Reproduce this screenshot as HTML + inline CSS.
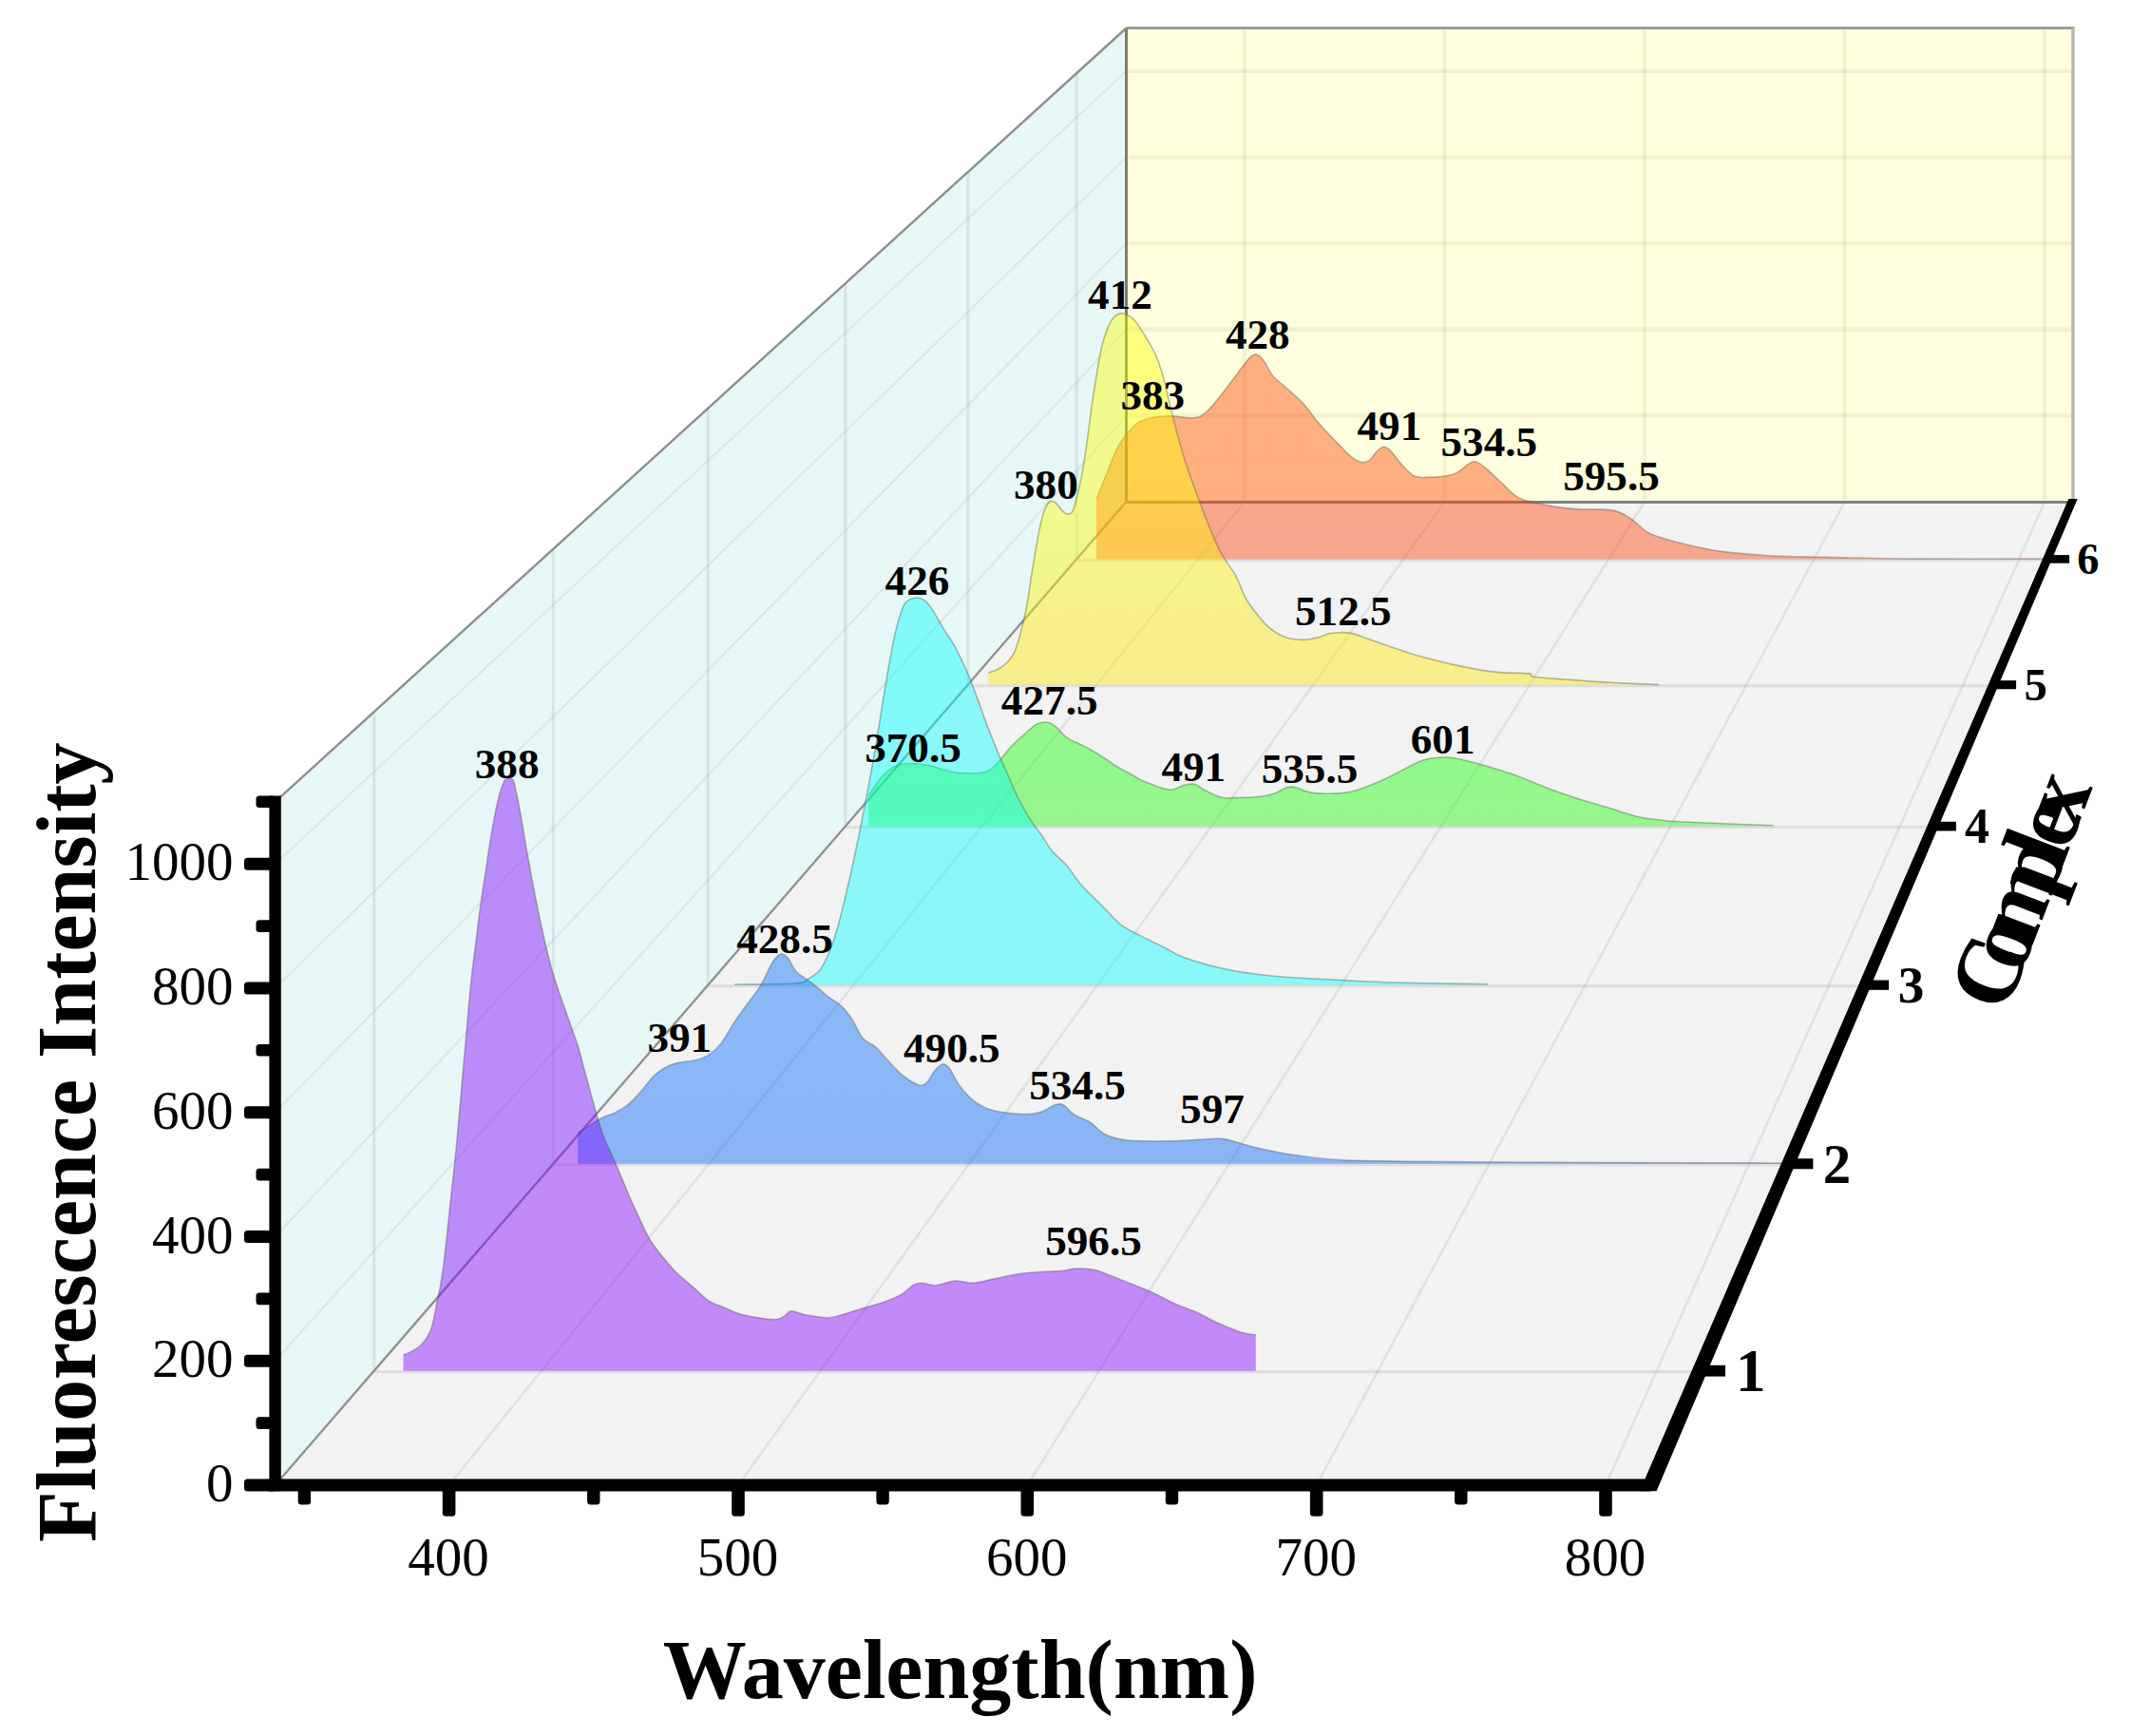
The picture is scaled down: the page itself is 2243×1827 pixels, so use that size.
<!DOCTYPE html>
<html lang="en"><head><meta charset="utf-8"><title>Fluorescence spectra of complexes 1-6</title>
<style>html,body{margin:0;padding:0;background:#fff}body{width:2243px;height:1827px;overflow:hidden}svg{display:block}text{font-family:"Liberation Serif","Times New Roman",serif;fill:#000}.b{font-weight:bold}.pk{font-weight:bold;font-size:45.2px;text-anchor:middle}.tk{font-size:57px}.g{stroke:#7f7f7f;stroke-opacity:.17;stroke-width:3;fill:none}.w{stroke-opacity:.15}</style></head><body>
<svg width="2243" height="1827" viewBox="0 0 2243 1827" role="img" aria-label="3D waterfall plot of fluorescence spectra">
<rect width="2243" height="1827" fill="#fff"/>
<polygon points="289.6,1563.0 1185.5,528.0 2182.0,528.0 1733.5,1563.0" fill="#f2f2f2"/>
<polygon points="289.6,1563.0 289.6,843.8 1185.5,29.5 1185.5,528.0" fill="#e6f7f6"/>
<rect x="1185.5" y="29.5" width="996.5" height="498.5" fill="#ffffdf"/>
<g class="g">
<path d="M393.7 1443.7H1785.6"/>
<path d="M582.3 1225.8H1880.1"/>
<path d="M745.2 1037.7H1961.6"/>
<path d="M889.8 870.6H2034.0"/>
<path d="M1018.7 721.7H2098.5"/>
<path d="M1133.2 589.4H2155.8"/>
<path style="stroke-width:2.6;stroke-opacity:.15" d="M472.6 1563.0L1310.0 528.0"/>
<path style="stroke-width:2.6;stroke-opacity:.15" d="M777.0 1563.0L1520.6 528.0"/>
<path style="stroke-width:2.6;stroke-opacity:.15" d="M1081.3 1563.0L1731.1 528.0"/>
<path style="stroke-width:2.6;stroke-opacity:.15" d="M1385.7 1563.0L1941.7 528.0"/>
<path style="stroke-width:2.6;stroke-opacity:.15" d="M1690.0 1563.0L2152.2 528.0"/>
<path class="w" d="M393.7 1442.7V749.2"/>
<path class="w" d="M582.3 1224.8V577.7"/>
<path class="w" d="M745.2 1036.7V429.7"/>
<path class="w" d="M889.8 869.6V298.3"/>
<path class="w" d="M1018.7 720.7V181.1"/>
<path class="w" d="M1133.2 588.4V77.0"/>
<path class="w" style="stroke-width:2.2;stroke-opacity:.12" d="M289.6 1432.2L1185.5 437.4"/>
<path class="w" style="stroke-width:2.2;stroke-opacity:.12" d="M289.6 1301.5L1185.5 346.7"/>
<path class="w" style="stroke-width:2.2;stroke-opacity:.12" d="M289.6 1170.7L1185.5 256.1"/>
<path class="w" style="stroke-width:2.2;stroke-opacity:.12" d="M289.6 1039.9L1185.5 165.5"/>
<path class="w" style="stroke-width:2.2;stroke-opacity:.12" d="M289.6 909.2L1185.5 74.8"/>
</g>
<g class="g" style="stroke-width:4.5;stroke:#8a8660;stroke-opacity:.11">
<path d="M1310.0 29.5V528.0"/>
<path d="M1520.6 29.5V528.0"/>
<path d="M1731.1 29.5V528.0"/>
<path d="M1941.7 29.5V528.0"/>
<path d="M2152.2 29.5V528.0"/>
<path d="M1185.5 437.4H2182.0"/>
<path d="M1185.5 346.7H2182.0"/>
<path d="M1185.5 256.1H2182.0"/>
<path d="M1185.5 165.5H2182.0"/>
<path d="M1185.5 74.8H2182.0"/>
</g>
<g fill="none" stroke-width="3">
<path d="M1185.5 29.5H2183.5" stroke="#9c9c9c"/>
<path d="M2182.0 29.5V528.0" stroke="#b8b8b2" stroke-width="3.5"/>
<path d="M1185.5 528.4H2182.0" stroke="#80807a"/>
<path d="M1185.5 29.5V528.0" stroke="#7f7e6c"/>
<path d="M289.6 843.8L1185.5 29.5" stroke="#8e8e8e" stroke-width="2.4"/>
<path d="M289.6 1563.0L1185.5 528.0" stroke="#909090" stroke-width="2.3"/>
</g>
<defs><linearGradient id="g6" gradientUnits="userSpaceOnUse" x1="0" y1="373.8" x2="0" y2="588.4"><stop offset="0" stop-color="rgb(255,70,0)"/><stop offset=".5" stop-color="rgb(255,70,0)"/><stop offset="1" stop-color="rgb(255,62,10)"/></linearGradient></defs>
<path d="M1154.1 588.4L1154.1 525.2C1155.8 521.0 1161.2 507.3 1164.8 498.5C1168.4 489.7 1172.7 477.6 1176.6 470.3C1180.5 463.0 1185.8 457.1 1189.3 452.9C1192.8 448.7 1195.0 446.3 1198.6 444.2C1202.2 442.0 1207.7 440.6 1211.8 439.7C1215.9 438.7 1220.6 438.2 1224.5 438.0C1228.3 437.7 1231.2 437.6 1235.7 438.0C1240.2 438.3 1248.1 439.9 1252.6 439.9C1257.1 439.9 1260.3 439.9 1263.9 438.0C1267.5 436.1 1270.6 433.1 1275.1 428.1C1279.7 423.2 1286.6 414.0 1292.0 407.0C1297.4 400.0 1304.9 389.6 1308.9 384.5C1313.0 379.3 1314.9 376.3 1317.4 374.6C1319.9 372.9 1322.2 372.6 1324.4 373.8C1326.7 374.9 1329.0 378.1 1331.5 381.7C1333.9 385.2 1336.3 391.4 1339.9 395.7C1343.5 400.0 1349.0 403.9 1354.0 408.4C1358.9 412.9 1365.5 418.0 1370.9 423.9C1376.3 429.7 1382.4 438.7 1387.8 445.0C1393.2 451.3 1399.3 457.7 1404.7 463.3C1410.1 468.9 1417.1 476.5 1421.6 480.2C1426.1 483.9 1429.7 485.7 1432.8 486.4C1436.0 487.1 1438.6 486.3 1441.3 484.4C1444.0 482.5 1447.2 476.8 1449.7 474.6C1452.2 472.3 1454.5 470.3 1456.7 470.3C1459.0 470.3 1460.9 471.6 1463.8 474.6C1466.7 477.5 1471.0 484.4 1475.1 488.6C1479.1 492.9 1484.2 499.1 1489.1 501.3C1494.1 503.5 1500.6 502.2 1506.0 502.2C1511.4 502.1 1518.4 501.6 1522.9 500.7C1527.4 499.9 1530.6 499.0 1534.2 497.1C1537.8 495.2 1542.5 490.4 1545.4 488.6C1548.4 486.8 1549.8 485.4 1552.5 485.8C1555.2 486.3 1558.1 488.1 1562.3 491.5C1566.6 494.8 1573.8 502.0 1579.2 506.9C1584.6 511.9 1590.7 519.0 1596.1 522.4C1601.5 525.9 1606.7 526.9 1613.0 528.6C1619.3 530.3 1627.9 532.0 1635.5 533.1C1643.2 534.3 1651.0 535.3 1660.9 535.9C1670.8 536.6 1688.5 535.4 1697.5 537.1C1706.5 538.7 1711.1 542.5 1717.2 546.4C1723.3 550.2 1727.8 557.1 1735.7 561.1C1743.7 565.0 1755.0 567.9 1766.7 570.9C1778.4 573.9 1793.2 577.7 1808.9 579.9C1824.7 582.2 1847.2 584.0 1865.2 585.0C1883.3 586.0 1896.8 585.9 1921.6 586.4C1946.3 586.9 1983.1 587.8 2020.1 588.1C2057.1 588.4 2131.7 588.0 2153.0 588.0L2153.0 588.4Z" fill="url(#g6)" fill-opacity="0.43"/>
<path d="M1154.1 525.2C1155.8 521.0 1161.2 507.3 1164.8 498.5C1168.4 489.7 1172.7 477.6 1176.6 470.3C1180.5 463.0 1185.8 457.1 1189.3 452.9C1192.8 448.7 1195.0 446.3 1198.6 444.2C1202.2 442.0 1207.7 440.6 1211.8 439.7C1215.9 438.7 1220.6 438.2 1224.5 438.0C1228.3 437.7 1231.2 437.6 1235.7 438.0C1240.2 438.3 1248.1 439.9 1252.6 439.9C1257.1 439.9 1260.3 439.9 1263.9 438.0C1267.5 436.1 1270.6 433.1 1275.1 428.1C1279.7 423.2 1286.6 414.0 1292.0 407.0C1297.4 400.0 1304.9 389.6 1308.9 384.5C1313.0 379.3 1314.9 376.3 1317.4 374.6C1319.9 372.9 1322.2 372.6 1324.4 373.8C1326.7 374.9 1329.0 378.1 1331.5 381.7C1333.9 385.2 1336.3 391.4 1339.9 395.7C1343.5 400.0 1349.0 403.9 1354.0 408.4C1358.9 412.9 1365.5 418.0 1370.9 423.9C1376.3 429.7 1382.4 438.7 1387.8 445.0C1393.2 451.3 1399.3 457.7 1404.7 463.3C1410.1 468.9 1417.1 476.5 1421.6 480.2C1426.1 483.9 1429.7 485.7 1432.8 486.4C1436.0 487.1 1438.6 486.3 1441.3 484.4C1444.0 482.5 1447.2 476.8 1449.7 474.6C1452.2 472.3 1454.5 470.3 1456.7 470.3C1459.0 470.3 1460.9 471.6 1463.8 474.6C1466.7 477.5 1471.0 484.4 1475.1 488.6C1479.1 492.9 1484.2 499.1 1489.1 501.3C1494.1 503.5 1500.6 502.2 1506.0 502.2C1511.4 502.1 1518.4 501.6 1522.9 500.7C1527.4 499.9 1530.6 499.0 1534.2 497.1C1537.8 495.2 1542.5 490.4 1545.4 488.6C1548.4 486.8 1549.8 485.4 1552.5 485.8C1555.2 486.3 1558.1 488.1 1562.3 491.5C1566.6 494.8 1573.8 502.0 1579.2 506.9C1584.6 511.9 1590.7 519.0 1596.1 522.4C1601.5 525.9 1606.7 526.9 1613.0 528.6C1619.3 530.3 1627.9 532.0 1635.5 533.1C1643.2 534.3 1651.0 535.3 1660.9 535.9C1670.8 536.6 1688.5 535.4 1697.5 537.1C1706.5 538.7 1711.1 542.5 1717.2 546.4C1723.3 550.2 1727.8 557.1 1735.7 561.1C1743.7 565.0 1755.0 567.9 1766.7 570.9C1778.4 573.9 1793.2 577.7 1808.9 579.9C1824.7 582.2 1847.2 584.0 1865.2 585.0C1883.3 586.0 1896.8 585.9 1921.6 586.4C1946.3 586.9 1983.1 587.8 2020.1 588.1C2057.1 588.4 2131.7 588.0 2153.0 588.0" fill="none" stroke="#55554a" stroke-opacity=".4" stroke-width="1.6"/>
<defs><linearGradient id="g5" gradientUnits="userSpaceOnUse" x1="0" y1="329.9" x2="0" y2="720.7"><stop offset="0" stop-color="rgb(255,255,0)"/><stop offset=".5" stop-color="rgb(255,255,0)"/><stop offset="1" stop-color="rgb(255,230,0)"/></linearGradient></defs>
<path d="M1040.3 720.7L1040.3 708.1C1041.9 707.5 1047.2 706.1 1050.4 704.3C1053.7 702.5 1057.7 699.7 1060.6 696.7C1063.4 693.7 1065.9 690.4 1068.2 685.3C1070.4 680.2 1072.5 672.7 1074.5 665.0C1076.5 657.3 1079.0 646.9 1080.8 637.1C1082.7 627.4 1084.3 614.3 1085.9 604.2C1087.5 594.0 1089.4 582.7 1091.0 573.8C1092.6 564.8 1094.4 554.9 1096.0 548.4C1097.7 541.9 1099.5 536.5 1101.1 533.2C1102.7 529.9 1104.6 528.2 1106.2 527.6C1107.8 527.0 1109.4 527.9 1111.3 529.4C1113.1 530.9 1115.8 535.2 1117.6 537.0C1119.4 538.8 1120.8 540.6 1122.7 540.8C1124.5 541.0 1127.2 541.5 1129.0 538.3C1130.8 535.0 1132.4 527.0 1134.1 520.5C1135.7 514.0 1137.5 506.6 1139.1 497.7C1140.8 488.8 1142.6 476.1 1144.2 464.8C1145.8 453.4 1147.7 438.1 1149.3 426.7C1150.9 415.4 1152.7 403.5 1154.3 393.8C1156.0 384.1 1157.6 373.6 1159.4 365.9C1161.2 358.2 1163.7 350.7 1165.8 345.6C1167.8 340.6 1169.9 336.7 1172.1 334.2C1174.3 331.7 1177.3 330.3 1179.7 329.9C1182.1 329.5 1184.9 330.4 1187.3 331.7C1189.7 333.0 1192.1 334.6 1194.9 338.0C1197.7 341.5 1201.8 348.0 1205.0 353.2C1208.3 358.5 1212.3 364.9 1215.2 371.0C1218.0 377.1 1220.4 383.1 1222.8 391.3C1225.2 399.4 1228.0 411.9 1230.4 421.7C1232.8 431.4 1235.2 441.5 1238.0 452.1C1240.8 462.6 1244.5 476.2 1248.1 487.6C1251.8 498.9 1256.8 512.1 1260.8 523.1C1264.9 534.0 1269.4 546.3 1273.5 556.0C1277.5 565.8 1281.9 576.1 1286.2 583.9C1290.4 591.7 1295.9 597.2 1300.0 604.7C1304.1 612.1 1308.0 623.7 1311.7 630.5C1315.5 637.3 1319.7 642.2 1323.5 646.9C1327.2 651.6 1331.4 656.5 1335.2 659.8C1338.9 663.2 1343.2 666.1 1346.9 668.0C1350.7 670.0 1354.2 671.4 1358.7 672.3C1363.2 673.1 1370.2 673.5 1375.1 673.2C1380.0 672.9 1385.4 671.4 1389.2 670.4C1392.9 669.4 1395.2 667.6 1398.5 666.9C1401.9 666.1 1406.5 665.8 1410.3 665.7C1414.0 665.6 1417.1 665.3 1422.0 666.4C1426.9 667.5 1434.0 670.4 1440.8 672.7C1447.5 675.1 1456.7 678.4 1464.2 680.9C1471.8 683.5 1480.2 686.4 1487.7 688.7C1495.2 690.9 1503.7 693.1 1511.2 695.0C1518.7 696.9 1527.1 698.8 1534.6 700.4C1542.1 702.0 1550.6 703.9 1558.1 705.1C1565.6 706.3 1573.3 707.3 1581.6 707.9C1589.8 708.5 1604.5 708.2 1609.7 708.9C1615.0 709.5 1607.6 711.1 1614.4 712.2C1621.2 713.2 1638.4 714.4 1651.9 715.4C1665.5 716.5 1683.9 717.7 1698.9 718.5C1713.9 719.3 1738.3 720.3 1745.8 720.6L1745.8 720.7Z" fill="url(#g5)" fill-opacity="0.43"/>
<path d="M1040.3 708.1C1041.9 707.5 1047.2 706.1 1050.4 704.3C1053.7 702.5 1057.7 699.7 1060.6 696.7C1063.4 693.7 1065.9 690.4 1068.2 685.3C1070.4 680.2 1072.5 672.7 1074.5 665.0C1076.5 657.3 1079.0 646.9 1080.8 637.1C1082.7 627.4 1084.3 614.3 1085.9 604.2C1087.5 594.0 1089.4 582.7 1091.0 573.8C1092.6 564.8 1094.4 554.9 1096.0 548.4C1097.7 541.9 1099.5 536.5 1101.1 533.2C1102.7 529.9 1104.6 528.2 1106.2 527.6C1107.8 527.0 1109.4 527.9 1111.3 529.4C1113.1 530.9 1115.8 535.2 1117.6 537.0C1119.4 538.8 1120.8 540.6 1122.7 540.8C1124.5 541.0 1127.2 541.5 1129.0 538.3C1130.8 535.0 1132.4 527.0 1134.1 520.5C1135.7 514.0 1137.5 506.6 1139.1 497.7C1140.8 488.8 1142.6 476.1 1144.2 464.8C1145.8 453.4 1147.7 438.1 1149.3 426.7C1150.9 415.4 1152.7 403.5 1154.3 393.8C1156.0 384.1 1157.6 373.6 1159.4 365.9C1161.2 358.2 1163.7 350.7 1165.8 345.6C1167.8 340.6 1169.9 336.7 1172.1 334.2C1174.3 331.7 1177.3 330.3 1179.7 329.9C1182.1 329.5 1184.9 330.4 1187.3 331.7C1189.7 333.0 1192.1 334.6 1194.9 338.0C1197.7 341.5 1201.8 348.0 1205.0 353.2C1208.3 358.5 1212.3 364.9 1215.2 371.0C1218.0 377.1 1220.4 383.1 1222.8 391.3C1225.2 399.4 1228.0 411.9 1230.4 421.7C1232.8 431.4 1235.2 441.5 1238.0 452.1C1240.8 462.6 1244.5 476.2 1248.1 487.6C1251.8 498.9 1256.8 512.1 1260.8 523.1C1264.9 534.0 1269.4 546.3 1273.5 556.0C1277.5 565.8 1281.9 576.1 1286.2 583.9C1290.4 591.7 1295.9 597.2 1300.0 604.7C1304.1 612.1 1308.0 623.7 1311.7 630.5C1315.5 637.3 1319.7 642.2 1323.5 646.9C1327.2 651.6 1331.4 656.5 1335.2 659.8C1338.9 663.2 1343.2 666.1 1346.9 668.0C1350.7 670.0 1354.2 671.4 1358.7 672.3C1363.2 673.1 1370.2 673.5 1375.1 673.2C1380.0 672.9 1385.4 671.4 1389.2 670.4C1392.9 669.4 1395.2 667.6 1398.5 666.9C1401.9 666.1 1406.5 665.8 1410.3 665.7C1414.0 665.6 1417.1 665.3 1422.0 666.4C1426.9 667.5 1434.0 670.4 1440.8 672.7C1447.5 675.1 1456.7 678.4 1464.2 680.9C1471.8 683.5 1480.2 686.4 1487.7 688.7C1495.2 690.9 1503.7 693.1 1511.2 695.0C1518.7 696.9 1527.1 698.8 1534.6 700.4C1542.1 702.0 1550.6 703.9 1558.1 705.1C1565.6 706.3 1573.3 707.3 1581.6 707.9C1589.8 708.5 1604.5 708.2 1609.7 708.9C1615.0 709.5 1607.6 711.1 1614.4 712.2C1621.2 713.2 1638.4 714.4 1651.9 715.4C1665.5 716.5 1683.9 717.7 1698.9 718.5C1713.9 719.3 1738.3 720.3 1745.8 720.6" fill="none" stroke="#55554a" stroke-opacity=".4" stroke-width="1.6"/>
<defs><linearGradient id="g4" gradientUnits="userSpaceOnUse" x1="0" y1="760.2" x2="0" y2="869.6"><stop offset="0" stop-color="rgb(20,255,0)"/><stop offset=".5" stop-color="rgb(20,255,0)"/><stop offset="1" stop-color="rgb(28,250,8)"/></linearGradient></defs>
<path d="M914.2 869.6L914.2 837.2C916.1 834.5 922.4 824.7 925.9 820.3C929.4 816.0 932.9 812.4 936.3 810.0C939.6 807.5 943.3 805.8 946.6 804.8C949.9 803.7 953.7 803.6 957.0 803.5C960.3 803.3 963.6 803.6 967.4 804.0C971.1 804.4 976.2 805.1 980.3 806.1C984.5 807.0 989.1 808.8 993.3 810.0C997.4 811.1 1002.1 812.4 1006.2 813.1C1010.4 813.7 1015.1 813.8 1019.2 813.8C1023.3 813.9 1028.4 813.9 1032.2 813.3C1035.9 812.7 1039.2 812.2 1042.5 810.0C1045.8 807.8 1049.2 803.7 1052.9 799.6C1056.6 795.4 1061.7 788.4 1065.9 784.0C1070.0 779.7 1075.1 775.7 1078.8 772.4C1082.6 769.1 1086.3 765.2 1089.2 763.3C1092.1 761.3 1094.5 760.6 1097.0 760.2C1099.5 759.8 1102.2 759.8 1104.7 760.7C1107.2 761.6 1109.6 763.4 1112.5 765.9C1115.4 768.4 1118.3 773.1 1122.9 776.3C1127.4 779.4 1135.2 782.2 1141.0 785.3C1146.8 788.4 1153.8 792.4 1159.2 795.7C1164.6 799.0 1168.9 802.5 1174.7 806.1C1180.5 809.6 1191.4 815.4 1195.5 817.7C1199.5 820.0 1196.6 819.0 1200.0 820.5C1203.4 822.0 1211.2 825.3 1216.4 827.0C1221.7 828.8 1228.1 831.4 1232.8 831.3C1237.6 831.2 1242.0 827.3 1246.0 826.4C1249.9 825.4 1253.8 824.5 1257.5 825.4C1261.2 826.3 1264.5 829.8 1269.0 832.0C1273.4 834.2 1279.6 838.0 1285.4 839.2C1291.2 840.4 1298.8 839.6 1305.1 839.5C1311.4 839.4 1319.0 839.2 1324.8 838.5C1330.6 837.9 1336.5 836.8 1341.2 835.3C1346.0 833.7 1350.7 829.7 1354.4 828.7C1358.1 827.6 1360.6 827.9 1364.2 828.7C1367.9 829.5 1372.1 832.6 1377.4 833.6C1382.6 834.7 1390.3 835.3 1397.1 835.3C1403.9 835.3 1413.8 834.7 1420.1 833.6C1426.4 832.6 1430.7 830.8 1436.5 828.7C1442.3 826.6 1449.9 823.4 1456.2 820.5C1462.5 817.6 1469.6 813.8 1475.9 810.6C1482.2 807.5 1489.9 802.9 1495.6 800.8C1501.4 798.7 1506.8 798.0 1512.1 797.5C1517.3 797.0 1522.7 796.8 1528.5 797.5C1534.3 798.2 1541.9 800.2 1548.2 801.8C1554.5 803.3 1560.5 805.1 1567.9 807.3C1575.3 809.5 1584.7 812.1 1594.2 815.6C1603.6 819.0 1616.5 824.7 1627.0 828.7C1637.5 832.6 1649.4 836.8 1659.9 840.2C1670.4 843.6 1682.2 846.9 1692.7 850.0C1703.2 853.2 1715.1 857.6 1725.6 859.9C1736.1 862.2 1745.3 863.1 1758.4 864.2C1771.6 865.2 1790.3 865.7 1807.7 866.5C1825.0 867.2 1857.4 868.4 1866.8 868.8L1866.8 869.6Z" fill="url(#g4)" fill-opacity="0.43"/>
<path d="M914.2 837.2C916.1 834.5 922.4 824.7 925.9 820.3C929.4 816.0 932.9 812.4 936.3 810.0C939.6 807.5 943.3 805.8 946.6 804.8C949.9 803.7 953.7 803.6 957.0 803.5C960.3 803.3 963.6 803.6 967.4 804.0C971.1 804.4 976.2 805.1 980.3 806.1C984.5 807.0 989.1 808.8 993.3 810.0C997.4 811.1 1002.1 812.4 1006.2 813.1C1010.4 813.7 1015.1 813.8 1019.2 813.8C1023.3 813.9 1028.4 813.9 1032.2 813.3C1035.9 812.7 1039.2 812.2 1042.5 810.0C1045.8 807.8 1049.2 803.7 1052.9 799.6C1056.6 795.4 1061.7 788.4 1065.9 784.0C1070.0 779.7 1075.1 775.7 1078.8 772.4C1082.6 769.1 1086.3 765.2 1089.2 763.3C1092.1 761.3 1094.5 760.6 1097.0 760.2C1099.5 759.8 1102.2 759.8 1104.7 760.7C1107.2 761.6 1109.6 763.4 1112.5 765.9C1115.4 768.4 1118.3 773.1 1122.9 776.3C1127.4 779.4 1135.2 782.2 1141.0 785.3C1146.8 788.4 1153.8 792.4 1159.2 795.7C1164.6 799.0 1168.9 802.5 1174.7 806.1C1180.5 809.6 1191.4 815.4 1195.5 817.7C1199.5 820.0 1196.6 819.0 1200.0 820.5C1203.4 822.0 1211.2 825.3 1216.4 827.0C1221.7 828.8 1228.1 831.4 1232.8 831.3C1237.6 831.2 1242.0 827.3 1246.0 826.4C1249.9 825.4 1253.8 824.5 1257.5 825.4C1261.2 826.3 1264.5 829.8 1269.0 832.0C1273.4 834.2 1279.6 838.0 1285.4 839.2C1291.2 840.4 1298.8 839.6 1305.1 839.5C1311.4 839.4 1319.0 839.2 1324.8 838.5C1330.6 837.9 1336.5 836.8 1341.2 835.3C1346.0 833.7 1350.7 829.7 1354.4 828.7C1358.1 827.6 1360.6 827.9 1364.2 828.7C1367.9 829.5 1372.1 832.6 1377.4 833.6C1382.6 834.7 1390.3 835.3 1397.1 835.3C1403.9 835.3 1413.8 834.7 1420.1 833.6C1426.4 832.6 1430.7 830.8 1436.5 828.7C1442.3 826.6 1449.9 823.4 1456.2 820.5C1462.5 817.6 1469.6 813.8 1475.9 810.6C1482.2 807.5 1489.9 802.9 1495.6 800.8C1501.4 798.7 1506.8 798.0 1512.1 797.5C1517.3 797.0 1522.7 796.8 1528.5 797.5C1534.3 798.2 1541.9 800.2 1548.2 801.8C1554.5 803.3 1560.5 805.1 1567.9 807.3C1575.3 809.5 1584.7 812.1 1594.2 815.6C1603.6 819.0 1616.5 824.7 1627.0 828.7C1637.5 832.6 1649.4 836.8 1659.9 840.2C1670.4 843.6 1682.2 846.9 1692.7 850.0C1703.2 853.2 1715.1 857.6 1725.6 859.9C1736.1 862.2 1745.3 863.1 1758.4 864.2C1771.6 865.2 1790.3 865.7 1807.7 866.5C1825.0 867.2 1857.4 868.4 1866.8 868.8" fill="none" stroke="#55554a" stroke-opacity=".4" stroke-width="1.6"/>
<path d="M773.0 1036.7L773.0 1036.0C783.3 1035.8 825.3 1035.9 837.8 1034.9C850.2 1034.0 846.6 1032.7 850.7 1030.3C854.9 1027.9 859.9 1024.9 863.7 1019.9C867.4 1014.9 871.1 1006.2 874.0 999.2C877.0 992.1 879.3 984.6 881.8 975.8C884.3 967.1 887.1 955.1 889.6 944.7C892.1 934.4 895.1 921.4 897.4 911.0C899.7 900.7 902.0 889.1 903.9 879.9C905.7 870.8 907.2 863.6 909.0 854.0C910.9 844.5 913.2 832.8 915.5 820.3C917.8 807.9 920.8 791.2 923.3 776.3C925.8 761.3 928.6 741.9 931.1 727.0C933.6 712.1 936.6 694.6 938.8 682.9C941.1 671.3 943.3 661.9 945.3 654.4C947.4 647.0 949.7 640.1 951.8 636.3C953.9 632.5 955.8 631.7 958.3 630.6C960.8 629.5 964.7 628.8 967.4 629.3C970.1 629.8 972.6 631.3 975.1 633.7C977.6 636.1 980.0 639.5 982.9 644.1C985.8 648.6 990.0 656.8 993.3 662.2C996.6 667.6 1000.3 672.0 1003.6 677.8C1007.0 683.6 1011.1 692.3 1014.0 698.5C1016.9 704.7 1019.3 710.4 1021.8 716.6C1024.3 722.9 1026.7 729.5 1029.6 737.4C1032.5 745.3 1036.6 757.2 1039.9 765.9C1043.3 774.6 1047.0 783.9 1050.3 791.8C1053.6 799.7 1057.4 807.7 1060.7 815.1C1064.0 822.6 1067.3 831.0 1071.0 838.5C1074.8 845.9 1079.9 855.2 1084.0 861.8C1088.1 868.4 1093.2 874.5 1097.0 879.9C1100.7 885.3 1103.2 890.5 1107.3 895.5C1111.5 900.5 1117.9 905.2 1122.9 911.0C1127.9 916.8 1132.6 925.1 1138.4 931.8C1144.2 938.4 1152.5 945.9 1159.2 952.5C1165.8 959.1 1173.3 968.1 1179.9 973.3C1186.5 978.4 1193.7 981.3 1200.6 984.9C1207.6 988.6 1216.1 992.5 1223.5 996.1C1230.9 999.8 1235.7 1003.9 1246.9 1007.9C1258.2 1011.8 1278.8 1017.7 1293.9 1020.8C1308.9 1023.9 1325.8 1025.8 1340.8 1027.3C1355.8 1028.9 1368.9 1029.2 1387.7 1030.2C1406.5 1031.2 1429.6 1032.8 1458.1 1033.7C1486.6 1034.6 1548.8 1035.5 1566.0 1035.8L1566.0 1036.7Z" fill="rgb(0,255,255)" fill-opacity="0.43"/>
<path d="M773.0 1036.0C783.3 1035.8 825.3 1035.9 837.8 1034.9C850.2 1034.0 846.6 1032.7 850.7 1030.3C854.9 1027.9 859.9 1024.9 863.7 1019.9C867.4 1014.9 871.1 1006.2 874.0 999.2C877.0 992.1 879.3 984.6 881.8 975.8C884.3 967.1 887.1 955.1 889.6 944.7C892.1 934.4 895.1 921.4 897.4 911.0C899.7 900.7 902.0 889.1 903.9 879.9C905.7 870.8 907.2 863.6 909.0 854.0C910.9 844.5 913.2 832.8 915.5 820.3C917.8 807.9 920.8 791.2 923.3 776.3C925.8 761.3 928.6 741.9 931.1 727.0C933.6 712.1 936.6 694.6 938.8 682.9C941.1 671.3 943.3 661.9 945.3 654.4C947.4 647.0 949.7 640.1 951.8 636.3C953.9 632.5 955.8 631.7 958.3 630.6C960.8 629.5 964.7 628.8 967.4 629.3C970.1 629.8 972.6 631.3 975.1 633.7C977.6 636.1 980.0 639.5 982.9 644.1C985.8 648.6 990.0 656.8 993.3 662.2C996.6 667.6 1000.3 672.0 1003.6 677.8C1007.0 683.6 1011.1 692.3 1014.0 698.5C1016.9 704.7 1019.3 710.4 1021.8 716.6C1024.3 722.9 1026.7 729.5 1029.6 737.4C1032.5 745.3 1036.6 757.2 1039.9 765.9C1043.3 774.6 1047.0 783.9 1050.3 791.8C1053.6 799.7 1057.4 807.7 1060.7 815.1C1064.0 822.6 1067.3 831.0 1071.0 838.5C1074.8 845.9 1079.9 855.2 1084.0 861.8C1088.1 868.4 1093.2 874.5 1097.0 879.9C1100.7 885.3 1103.2 890.5 1107.3 895.5C1111.5 900.5 1117.9 905.2 1122.9 911.0C1127.9 916.8 1132.6 925.1 1138.4 931.8C1144.2 938.4 1152.5 945.9 1159.2 952.5C1165.8 959.1 1173.3 968.1 1179.9 973.3C1186.5 978.4 1193.7 981.3 1200.6 984.9C1207.6 988.6 1216.1 992.5 1223.5 996.1C1230.9 999.8 1235.7 1003.9 1246.9 1007.9C1258.2 1011.8 1278.8 1017.7 1293.9 1020.8C1308.9 1023.9 1325.8 1025.8 1340.8 1027.3C1355.8 1028.9 1368.9 1029.2 1387.7 1030.2C1406.5 1031.2 1429.6 1032.8 1458.1 1033.7C1486.6 1034.6 1548.8 1035.5 1566.0 1035.8" fill="none" stroke="#55554a" stroke-opacity=".4" stroke-width="1.6"/>
<defs><linearGradient id="g2" gradientUnits="userSpaceOnUse" x1="0" y1="1003.9" x2="0" y2="1224.8"><stop offset="0" stop-color="rgb(0,108,255)"/><stop offset=".5" stop-color="rgb(0,108,255)"/><stop offset="1" stop-color="rgb(0,96,250)"/></linearGradient></defs>
<path d="M608.3 1224.8L608.3 1192.6C612.1 1190.1 626.2 1180.5 632.2 1177.1C638.3 1173.7 641.8 1173.7 646.3 1171.5C650.8 1169.2 655.9 1166.6 660.4 1163.0C664.9 1159.4 670.0 1153.9 674.5 1148.9C679.0 1144.0 684.0 1136.3 688.5 1132.0C693.0 1127.8 698.1 1124.4 702.6 1122.2C707.1 1119.9 712.2 1119.0 716.7 1118.0C721.2 1117.0 726.3 1117.1 730.8 1116.0C735.3 1114.9 740.4 1113.8 744.9 1110.9C749.4 1108.1 754.4 1103.9 758.9 1098.3C763.4 1092.6 768.5 1082.5 773.0 1075.7C777.5 1069.0 782.6 1062.3 787.1 1056.0C791.6 1049.7 797.1 1043.1 801.2 1036.3C805.2 1029.6 809.5 1018.7 812.4 1013.8C815.4 1008.8 817.7 1006.9 819.5 1005.3C821.3 1003.8 822.1 1003.5 823.7 1003.9C825.3 1004.4 827.1 1005.2 829.3 1008.2C831.6 1011.1 834.6 1018.6 837.8 1022.2C840.9 1025.8 845.4 1028.0 849.0 1030.7C852.6 1033.4 856.7 1036.2 860.3 1039.1C863.9 1042.1 867.5 1045.8 871.6 1049.0C875.6 1052.1 881.6 1055.0 885.6 1058.8C889.7 1062.7 893.3 1067.5 896.9 1072.9C900.5 1078.3 904.1 1087.9 908.2 1092.6C912.2 1097.4 917.7 1098.4 922.2 1102.5C926.7 1106.5 931.8 1113.2 936.3 1118.0C940.8 1122.7 945.4 1128.2 950.4 1132.0C955.3 1135.9 963.2 1140.8 967.3 1141.9C971.3 1143.0 973.0 1141.6 975.7 1139.1C978.4 1136.6 981.5 1129.5 984.2 1126.4C986.9 1123.3 990.1 1120.2 992.6 1119.9C995.1 1119.7 997.0 1121.5 999.7 1125.0C1002.4 1128.5 1005.7 1136.7 1009.5 1141.9C1013.3 1147.1 1018.6 1153.3 1023.6 1157.4C1028.6 1161.4 1034.2 1165.0 1040.5 1167.2C1046.8 1169.5 1055.8 1170.6 1063.0 1171.5C1070.2 1172.3 1079.7 1172.8 1085.5 1172.3C1091.4 1171.9 1095.6 1170.2 1099.6 1168.6C1103.7 1167.1 1107.7 1163.3 1110.9 1162.4C1114.0 1161.5 1116.2 1161.3 1119.3 1163.0C1122.5 1164.7 1126.1 1169.9 1130.6 1172.9C1135.1 1175.8 1142.1 1177.9 1147.5 1181.3C1152.8 1184.7 1157.8 1191.3 1164.1 1194.3C1170.3 1197.3 1175.3 1198.9 1186.6 1200.0C1197.9 1201.0 1220.1 1201.0 1234.5 1200.8C1248.9 1200.6 1267.7 1198.8 1276.7 1198.5C1285.7 1198.3 1284.0 1197.8 1290.8 1199.1C1297.5 1200.5 1307.7 1204.4 1318.9 1207.0C1330.2 1209.6 1345.4 1213.2 1361.2 1215.4C1376.9 1217.7 1388.2 1219.9 1417.5 1221.1C1446.8 1222.2 1501.4 1222.4 1544.2 1222.8C1587.0 1223.2 1631.5 1223.4 1685.0 1223.6C1738.4 1223.8 1847.1 1223.9 1878.0 1224.0L1878.0 1224.8Z" fill="url(#g2)" fill-opacity="0.43"/>
<path d="M608.3 1192.6C612.1 1190.1 626.2 1180.5 632.2 1177.1C638.3 1173.7 641.8 1173.7 646.3 1171.5C650.8 1169.2 655.9 1166.6 660.4 1163.0C664.9 1159.4 670.0 1153.9 674.5 1148.9C679.0 1144.0 684.0 1136.3 688.5 1132.0C693.0 1127.8 698.1 1124.4 702.6 1122.2C707.1 1119.9 712.2 1119.0 716.7 1118.0C721.2 1117.0 726.3 1117.1 730.8 1116.0C735.3 1114.9 740.4 1113.8 744.9 1110.9C749.4 1108.1 754.4 1103.9 758.9 1098.3C763.4 1092.6 768.5 1082.5 773.0 1075.7C777.5 1069.0 782.6 1062.3 787.1 1056.0C791.6 1049.7 797.1 1043.1 801.2 1036.3C805.2 1029.6 809.5 1018.7 812.4 1013.8C815.4 1008.8 817.7 1006.9 819.5 1005.3C821.3 1003.8 822.1 1003.5 823.7 1003.9C825.3 1004.4 827.1 1005.2 829.3 1008.2C831.6 1011.1 834.6 1018.6 837.8 1022.2C840.9 1025.8 845.4 1028.0 849.0 1030.7C852.6 1033.4 856.7 1036.2 860.3 1039.1C863.9 1042.1 867.5 1045.8 871.6 1049.0C875.6 1052.1 881.6 1055.0 885.6 1058.8C889.7 1062.7 893.3 1067.5 896.9 1072.9C900.5 1078.3 904.1 1087.9 908.2 1092.6C912.2 1097.4 917.7 1098.4 922.2 1102.5C926.7 1106.5 931.8 1113.2 936.3 1118.0C940.8 1122.7 945.4 1128.2 950.4 1132.0C955.3 1135.9 963.2 1140.8 967.3 1141.9C971.3 1143.0 973.0 1141.6 975.7 1139.1C978.4 1136.6 981.5 1129.5 984.2 1126.4C986.9 1123.3 990.1 1120.2 992.6 1119.9C995.1 1119.7 997.0 1121.5 999.7 1125.0C1002.4 1128.5 1005.7 1136.7 1009.5 1141.9C1013.3 1147.1 1018.6 1153.3 1023.6 1157.4C1028.6 1161.4 1034.2 1165.0 1040.5 1167.2C1046.8 1169.5 1055.8 1170.6 1063.0 1171.5C1070.2 1172.3 1079.7 1172.8 1085.5 1172.3C1091.4 1171.9 1095.6 1170.2 1099.6 1168.6C1103.7 1167.1 1107.7 1163.3 1110.9 1162.4C1114.0 1161.5 1116.2 1161.3 1119.3 1163.0C1122.5 1164.7 1126.1 1169.9 1130.6 1172.9C1135.1 1175.8 1142.1 1177.9 1147.5 1181.3C1152.8 1184.7 1157.8 1191.3 1164.1 1194.3C1170.3 1197.3 1175.3 1198.9 1186.6 1200.0C1197.9 1201.0 1220.1 1201.0 1234.5 1200.8C1248.9 1200.6 1267.7 1198.8 1276.7 1198.5C1285.7 1198.3 1284.0 1197.8 1290.8 1199.1C1297.5 1200.5 1307.7 1204.4 1318.9 1207.0C1330.2 1209.6 1345.4 1213.2 1361.2 1215.4C1376.9 1217.7 1388.2 1219.9 1417.5 1221.1C1446.8 1222.2 1501.4 1222.4 1544.2 1222.8C1587.0 1223.2 1631.5 1223.4 1685.0 1223.6C1738.4 1223.8 1847.1 1223.9 1878.0 1224.0" fill="none" stroke="#55554a" stroke-opacity=".4" stroke-width="1.6"/>
<path d="M424.5 1442.7L424.5 1425.9C425.8 1425.4 429.8 1424.4 432.8 1422.6C435.9 1420.8 440.6 1418.3 443.8 1414.9C446.9 1411.6 450.4 1406.4 452.5 1401.8C454.6 1397.3 455.7 1391.7 456.9 1386.5C458.1 1381.2 459.2 1374.2 460.2 1369.0C461.3 1363.7 462.4 1359.6 463.5 1353.6C464.5 1347.7 465.7 1339.8 466.8 1331.8C467.8 1323.7 469.0 1312.7 470.1 1303.3C471.1 1293.8 472.3 1282.5 473.3 1272.6C474.4 1262.8 475.6 1251.8 476.6 1242.0C477.7 1232.2 478.9 1221.2 479.9 1211.3C480.9 1201.5 481.9 1190.5 482.7 1180.7C483.6 1170.9 484.5 1159.9 485.4 1150.1C486.2 1140.2 487.1 1129.2 488.0 1119.4C488.9 1109.6 490.0 1098.4 490.8 1088.8C491.7 1079.1 492.4 1069.5 493.3 1059.2C494.3 1048.9 495.5 1035.7 496.8 1024.6C498.0 1013.6 499.7 1001.1 501.1 990.1C502.5 979.0 503.9 966.6 505.4 955.5C506.9 944.5 508.9 932.0 510.6 921.0C512.3 909.9 514.1 896.6 515.8 886.4C517.4 876.2 519.3 865.3 521.0 857.0C522.6 848.7 524.6 840.1 526.1 834.6C527.7 829.0 529.3 824.9 530.5 822.5C531.6 820.1 532.6 820.1 533.4 819.5C534.2 818.9 534.9 818.7 535.6 818.7C536.4 818.7 537.1 818.9 537.9 819.5C538.7 820.1 539.8 819.5 540.8 822.5C541.9 825.4 543.0 831.9 544.3 838.0C545.5 844.1 547.2 852.7 548.6 860.5C550.0 868.2 551.5 878.4 552.9 886.4C554.3 894.4 555.7 902.3 557.2 910.6C558.8 918.9 560.8 929.7 562.4 938.2C564.1 946.8 565.9 955.9 567.6 964.2C569.4 972.5 571.2 981.0 573.3 990.1C575.5 999.2 578.3 1011.5 581.1 1021.2C583.9 1030.9 586.3 1038.0 590.6 1050.6C594.9 1063.1 604.1 1088.0 608.0 1099.7C611.8 1111.4 612.4 1116.1 614.5 1123.8C616.6 1131.5 619.0 1140.2 621.1 1147.9C623.2 1155.6 625.4 1164.2 627.7 1171.9C629.9 1179.6 632.9 1189.4 635.3 1196.0C637.8 1202.7 640.4 1207.6 643.0 1213.5C645.6 1219.5 648.6 1225.9 651.8 1233.2C654.9 1240.6 659.2 1251.5 662.7 1259.5C666.2 1267.6 670.1 1276.2 673.6 1283.6C677.1 1290.9 680.7 1299.2 684.6 1305.5C688.4 1311.8 693.5 1317.7 697.7 1323.0C701.9 1328.2 706.0 1333.4 710.9 1338.3C715.8 1343.2 722.8 1348.7 728.4 1353.6C734.0 1358.5 740.6 1365.5 745.9 1369.0C751.1 1372.5 755.7 1373.3 761.2 1375.5C766.7 1377.8 771.7 1381.1 780.0 1383.2C788.4 1385.3 806.3 1388.2 813.5 1388.6C820.6 1389.0 821.8 1387.0 824.9 1385.6C827.9 1384.2 828.8 1380.2 832.5 1379.8C836.1 1379.5 841.6 1382.6 847.7 1383.7C853.8 1384.7 864.8 1386.6 870.5 1386.7C876.2 1386.8 877.6 1385.9 883.5 1384.4C889.3 1382.9 899.4 1379.6 906.9 1377.3C914.4 1375.1 923.6 1372.7 930.4 1370.3C937.1 1367.8 944.3 1364.9 949.2 1362.1C954.0 1359.2 957.5 1354.6 960.9 1352.7C964.3 1350.8 966.5 1350.3 970.3 1350.3C974.0 1350.3 978.7 1353.1 984.4 1352.7C990.0 1352.3 999.1 1348.4 1005.5 1348.0C1011.9 1347.6 1017.5 1350.7 1024.2 1350.3C1031.0 1350.0 1040.2 1347.1 1047.7 1345.6C1055.2 1344.1 1063.7 1342.1 1071.2 1340.9C1078.7 1339.8 1087.1 1339.2 1094.6 1338.6C1102.1 1338.0 1112.1 1338.0 1118.1 1337.4C1124.1 1336.9 1126.9 1335.3 1132.2 1335.1C1137.4 1334.9 1145.7 1335.3 1150.9 1336.3C1156.2 1337.2 1159.0 1338.7 1165.0 1340.9C1171.0 1343.2 1181.0 1347.3 1188.5 1350.3C1196.0 1353.3 1204.4 1356.3 1211.9 1359.7C1219.5 1363.1 1227.9 1368.1 1235.4 1371.5C1242.9 1374.8 1251.4 1377.5 1258.9 1380.8C1266.4 1384.2 1274.8 1389.2 1282.3 1392.6C1289.8 1395.9 1299.5 1400.0 1305.8 1402.0C1312.1 1403.9 1319.2 1404.5 1321.8 1405.0L1321.8 1442.7Z" fill="rgb(128,0,255)" fill-opacity="0.43"/>
<path d="M424.5 1425.9C425.8 1425.4 429.8 1424.4 432.8 1422.6C435.9 1420.8 440.6 1418.3 443.8 1414.9C446.9 1411.6 450.4 1406.4 452.5 1401.8C454.6 1397.3 455.7 1391.7 456.9 1386.5C458.1 1381.2 459.2 1374.2 460.2 1369.0C461.3 1363.7 462.4 1359.6 463.5 1353.6C464.5 1347.7 465.7 1339.8 466.8 1331.8C467.8 1323.7 469.0 1312.7 470.1 1303.3C471.1 1293.8 472.3 1282.5 473.3 1272.6C474.4 1262.8 475.6 1251.8 476.6 1242.0C477.7 1232.2 478.9 1221.2 479.9 1211.3C480.9 1201.5 481.9 1190.5 482.7 1180.7C483.6 1170.9 484.5 1159.9 485.4 1150.1C486.2 1140.2 487.1 1129.2 488.0 1119.4C488.9 1109.6 490.0 1098.4 490.8 1088.8C491.7 1079.1 492.4 1069.5 493.3 1059.2C494.3 1048.9 495.5 1035.7 496.8 1024.6C498.0 1013.6 499.7 1001.1 501.1 990.1C502.5 979.0 503.9 966.6 505.4 955.5C506.9 944.5 508.9 932.0 510.6 921.0C512.3 909.9 514.1 896.6 515.8 886.4C517.4 876.2 519.3 865.3 521.0 857.0C522.6 848.7 524.6 840.1 526.1 834.6C527.7 829.0 529.3 824.9 530.5 822.5C531.6 820.1 532.6 820.1 533.4 819.5C534.2 818.9 534.9 818.7 535.6 818.7C536.4 818.7 537.1 818.9 537.9 819.5C538.7 820.1 539.8 819.5 540.8 822.5C541.9 825.4 543.0 831.9 544.3 838.0C545.5 844.1 547.2 852.7 548.6 860.5C550.0 868.2 551.5 878.4 552.9 886.4C554.3 894.4 555.7 902.3 557.2 910.6C558.8 918.9 560.8 929.7 562.4 938.2C564.1 946.8 565.9 955.9 567.6 964.2C569.4 972.5 571.2 981.0 573.3 990.1C575.5 999.2 578.3 1011.5 581.1 1021.2C583.9 1030.9 586.3 1038.0 590.6 1050.6C594.9 1063.1 604.1 1088.0 608.0 1099.7C611.8 1111.4 612.4 1116.1 614.5 1123.8C616.6 1131.5 619.0 1140.2 621.1 1147.9C623.2 1155.6 625.4 1164.2 627.7 1171.9C629.9 1179.6 632.9 1189.4 635.3 1196.0C637.8 1202.7 640.4 1207.6 643.0 1213.5C645.6 1219.5 648.6 1225.9 651.8 1233.2C654.9 1240.6 659.2 1251.5 662.7 1259.5C666.2 1267.6 670.1 1276.2 673.6 1283.6C677.1 1290.9 680.7 1299.2 684.6 1305.5C688.4 1311.8 693.5 1317.7 697.7 1323.0C701.9 1328.2 706.0 1333.4 710.9 1338.3C715.8 1343.2 722.8 1348.7 728.4 1353.6C734.0 1358.5 740.6 1365.5 745.9 1369.0C751.1 1372.5 755.7 1373.3 761.2 1375.5C766.7 1377.8 771.7 1381.1 780.0 1383.2C788.4 1385.3 806.3 1388.2 813.5 1388.6C820.6 1389.0 821.8 1387.0 824.9 1385.6C827.9 1384.2 828.8 1380.2 832.5 1379.8C836.1 1379.5 841.6 1382.6 847.7 1383.7C853.8 1384.7 864.8 1386.6 870.5 1386.7C876.2 1386.8 877.6 1385.9 883.5 1384.4C889.3 1382.9 899.4 1379.6 906.9 1377.3C914.4 1375.1 923.6 1372.7 930.4 1370.3C937.1 1367.8 944.3 1364.9 949.2 1362.1C954.0 1359.2 957.5 1354.6 960.9 1352.7C964.3 1350.8 966.5 1350.3 970.3 1350.3C974.0 1350.3 978.7 1353.1 984.4 1352.7C990.0 1352.3 999.1 1348.4 1005.5 1348.0C1011.9 1347.6 1017.5 1350.7 1024.2 1350.3C1031.0 1350.0 1040.2 1347.1 1047.7 1345.6C1055.2 1344.1 1063.7 1342.1 1071.2 1340.9C1078.7 1339.8 1087.1 1339.2 1094.6 1338.6C1102.1 1338.0 1112.1 1338.0 1118.1 1337.4C1124.1 1336.9 1126.9 1335.3 1132.2 1335.1C1137.4 1334.9 1145.7 1335.3 1150.9 1336.3C1156.2 1337.2 1159.0 1338.7 1165.0 1340.9C1171.0 1343.2 1181.0 1347.3 1188.5 1350.3C1196.0 1353.3 1204.4 1356.3 1211.9 1359.7C1219.5 1363.1 1227.9 1368.1 1235.4 1371.5C1242.9 1374.8 1251.4 1377.5 1258.9 1380.8C1266.4 1384.2 1274.8 1389.2 1282.3 1392.6C1289.8 1395.9 1299.5 1400.0 1305.8 1402.0C1312.1 1403.9 1319.2 1404.5 1321.8 1405.0" fill="none" stroke="#55554a" stroke-opacity=".4" stroke-width="1.6"/>
<g stroke="#000" fill="none" stroke-linecap="butt">
<path d="M289.6 837.6V1569.2" stroke-width="12.4"/>
<path d="M283.4 1563.0H1737.5" stroke-width="13"/>
</g>
<polygon points="1725.9,1569.2 1743.6,1569.2 2186.7,525.0 2177.3,525.0" fill="#000"/>
<g fill="#000">
<rect x="257" y="1556.5" width="32.6" height="13" rx="3.5"/>
<rect x="269.5" y="1491.3" width="20.1" height="12.6" rx="3.5"/>
<rect x="257" y="1425.7" width="32.6" height="13" rx="3.5"/>
<rect x="269.5" y="1360.6" width="20.1" height="12.6" rx="3.5"/>
<rect x="257" y="1295.0" width="32.6" height="13" rx="3.5"/>
<rect x="269.5" y="1229.8" width="20.1" height="12.6" rx="3.5"/>
<rect x="257" y="1164.2" width="32.6" height="13" rx="3.5"/>
<rect x="269.5" y="1099.0" width="20.1" height="12.6" rx="3.5"/>
<rect x="257" y="1033.4" width="32.6" height="13" rx="3.5"/>
<rect x="269.5" y="968.3" width="20.1" height="12.6" rx="3.5"/>
<rect x="257" y="902.7" width="32.6" height="13" rx="3.5"/>
<rect x="269.5" y="837.5" width="20.1" height="12.6" rx="3.5"/>
<rect x="313.7" y="1563.0" width="13.4" height="20.6" rx="3.5"/>
<rect x="465.8" y="1563.0" width="13.6" height="32.8" rx="3.5"/>
<rect x="618.1" y="1563.0" width="13.4" height="20.6" rx="3.5"/>
<rect x="770.2" y="1563.0" width="13.6" height="32.8" rx="3.5"/>
<rect x="922.4" y="1563.0" width="13.4" height="20.6" rx="3.5"/>
<rect x="1074.5" y="1563.0" width="13.6" height="32.8" rx="3.5"/>
<rect x="1226.8" y="1563.0" width="13.4" height="20.6" rx="3.5"/>
<rect x="1378.9" y="1563.0" width="13.6" height="32.8" rx="3.5"/>
<rect x="1531.1" y="1563.0" width="13.4" height="20.6" rx="3.5"/>
<rect x="1683.2" y="1563.0" width="13.6" height="32.8" rx="3.5"/>
</g>
<g stroke="#000" fill="none">
<path d="M1785.6 1442.7H1816.0" stroke-width="11.8" stroke-linecap="butt"/>
<path d="M1880.1 1224.8H1908.4" stroke-width="11.0" stroke-linecap="butt"/>
<path d="M1961.6 1036.7H1988.1" stroke-width="10.3" stroke-linecap="butt"/>
<path d="M2034.0 869.6H2058.9" stroke-width="9.7" stroke-linecap="butt"/>
<path d="M2098.5 720.7H2122.1" stroke-width="9.1" stroke-linecap="butt"/>
<path d="M2155.8 588.4H2178.1" stroke-width="8.6" stroke-linecap="butt"/>
</g>
<g class="tk" text-anchor="end">
<text x="245.5" y="1580.2">0</text>
<text x="245.5" y="1449.4">200</text>
<text x="245.5" y="1318.7">400</text>
<text x="245.5" y="1187.9">600</text>
<text x="245.5" y="1057.1">800</text>
<text x="245.5" y="926.4">1000</text>
</g>
<g class="tk" text-anchor="middle">
<text x="472.1" y="1657.6">400</text>
<text x="776.5" y="1657.6">500</text>
<text x="1080.8" y="1657.6">600</text>
<text x="1385.2" y="1657.6">700</text>
<text x="1689.5" y="1657.6">800</text>
</g>
<g class="b">
<text x="1827.1" y="1463.9" font-size="63.1">1</text>
<text x="1918.7" y="1244.5" font-size="58.9">2</text>
<text x="1997.8" y="1055.2" font-size="55.2">3</text>
<text x="2068.0" y="887.0" font-size="51.9">4</text>
<text x="2130.6" y="737.1" font-size="49.0">5</text>
<text x="2186.3" y="603.9" font-size="46.4">6</text>
</g>
<g class="pk">
<text x="533.6" y="819.4">388</text>
<text x="1151.0" y="1320.5">596.5</text>
<text x="715.3" y="1106.7">391</text>
<text x="826.0" y="1003.0">428.5</text>
<text x="1001.8" y="1118.0">490.5</text>
<text x="1134.0" y="1156.8">534.5</text>
<text x="1276.0" y="1181.6">597</text>
<text x="965.5" y="626.0">426</text>
<text x="961.0" y="801.7">370.5</text>
<text x="1104.7" y="751.6">427.5</text>
<text x="1256.3" y="821.5">491</text>
<text x="1378.5" y="823.8">535.5</text>
<text x="1518.6" y="792.6">601</text>
<text x="1100.9" y="525.0">380</text>
<text x="1179.0" y="325.2">412</text>
<text x="1413.8" y="657.5">512.5</text>
<text x="1213.3" y="430.7">383</text>
<text x="1323.8" y="367.4">428</text>
<text x="1462.4" y="463.3">491</text>
<text x="1567.3" y="480.2">534.5</text>
<text x="1696.0" y="516.0">595.5</text>
</g>
<text class="b" font-size="88" text-anchor="middle" x="1010.6" y="1786.6">Wavelength(nm)</text>
<text class="b" font-size="88" text-anchor="middle" transform="translate(100.4 1202.3) rotate(-90)">Fluorescence Intensity</text>
<text class="b" font-size="99" transform="translate(2111 1068.3) rotate(-69)" dx="0 -26 -18.5 -29 -21.6 -7.4 -20">Complex</text>
</svg></body></html>
